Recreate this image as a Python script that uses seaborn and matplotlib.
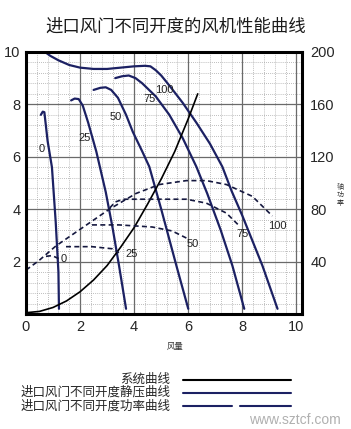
import numpy as np
import pandas as pd
import matplotlib
matplotlib.use('Agg')
import matplotlib.pyplot as plt
import seaborn as sns
from matplotlib.lines import Line2D
from matplotlib.ticker import MultipleLocator

sns.set_style('white')
plt.rcParams['font.family'] = ['Noto Sans CJK SC', 'DejaVu Sans']

NAVY = '#1c2163'

# static pressure curves per damper opening (x = 风量, y = 静压)
openings = ['0', '25', '50', '75', '100']
sp_x = {
    '0': [0.55, 0.62, 0.68, 0.8, 0.96, 1.1, 1.2, 1.22],
    '25': [1.67, 1.8, 1.95, 2.1, 2.3, 2.6, 2.95, 3.2, 3.44, 3.7],
    '50': [2.5, 2.75, 2.95, 3.15, 3.4, 3.7, 3.95, 4.3, 4.56, 5.0, 5.56, 6.0],
    '75': [3.3, 3.55, 3.8, 4.05, 4.3, 4.8, 5.3, 5.8, 6.3, 6.7, 7.2, 7.63, 8.07],
    '100': [0.7, 0.9, 1.2, 1.6, 2.0, 2.5, 3.0, 3.5, 4.0, 4.4, 4.6, 4.8, 5.0,
            5.3, 5.8, 6.3, 6.8, 7.26, 7.6, 8.0, 8.74, 9.3],
}
sp_y = {
    '0': [7.6, 7.72, 7.7, 6.6, 5.6, 3.5, 1.6, 0.2],
    '25': [8.15, 8.22, 8.2, 7.95, 7.3, 6.2, 4.65, 3.3, 1.85, 0.2],
    '50': [8.55, 8.63, 8.65, 8.55, 8.25, 7.6, 6.95, 6.2, 5.62, 4.0, 1.85, 0.2],
    '75': [9.0, 9.07, 9.1, 9.0, 8.8, 8.3, 7.6, 6.7, 5.62, 4.6, 3.2, 1.85, 0.2],
    '100': [10.0, 9.85, 9.68, 9.5, 9.4, 9.35, 9.35, 9.4, 9.45, 9.47, 9.45, 9.3, 9.1,
            8.72, 8.05, 7.3, 6.5, 5.62, 4.7, 3.75, 1.85, 0.2],
}
sp_label_xy = {'0': (0.59, 6.3), '25': (2.15, 6.72), '50': (3.33, 7.5),
               '75': (4.56, 8.19), '100': (5.11, 8.53)}

# shaft power curves (right axis, 轴功率)
pw_x = {
    '0': [0.74, 0.96, 1.22],
    '25': [1.48, 2.44, 3.19, 3.44],
    '50': [2.44, 3.44, 4.67, 5.4, 5.93],
    '75': [3.1, 3.3, 3.6, 4.67, 5.93, 6.67, 7.41, 7.89],
    '100': [0.0, 0.48, 1.11, 2.07, 3.07, 4.07, 4.93, 5.93, 6.67, 7.41, 8.37, 9.11],
}
pw_y = {
    '0': [44, 44.6, 42.2],
    '25': [51.4, 51.4, 49.8, 46.8],
    '50': [68, 68, 66.4, 63.4, 58],
    '75': [81, 85.5, 87.6, 87.6, 87.6, 84.6, 77, 67.2],
    '100': [33.5, 40.8, 52, 65.6, 79.8, 92, 98.8, 101.8, 101.8, 98.8, 89.8, 74.8],
}
pw_label_xy = {'0': (1.41, 42.2), '25': (3.89, 46), '50': (6.15, 53.6),
               '75': (8.0, 61.2), '100': (9.3, 67.2)}

# system curve
sys_x = [0, 0.5, 1, 1.5, 2, 2.5, 3, 3.5, 4, 4.5, 5, 5.5, 6, 6.35]
sys_y = [0.05, 0.1, 0.25, 0.5, 0.85, 1.3, 1.85, 2.55, 3.3, 4.2, 5.15, 6.2, 7.45, 8.4]

xticks = [0, 2, 4, 6, 8, 10]
yticks_left = [2, 4, 6, 8, 10]
yticks_right = [40, 80, 120, 160, 200]

fig = plt.figure(figsize=(3.51, 4.29), dpi=100)
ax = fig.add_axes([0.074, 0.268, 0.786, 0.611])
ax2 = ax.twinx()

ax.set_xlim(0, 10.2)
ax.set_ylim(0, 10)
ax2.set_ylim(0, 200)

# grid
ax.xaxis.set_minor_locator(MultipleLocator(0.4))
ax.yaxis.set_minor_locator(MultipleLocator(0.4))
ax.grid(which='minor', color='#a8a8a8', linestyle=(0, (1, 1.5)), linewidth=0.6)
ax.grid(which='major', color='#6a6a6a', linestyle='-', linewidth=0.9)
ax.set_axisbelow(True)

num_font = ['Liberation Sans', 'DejaVu Sans']

for o in openings:
    df = pd.DataFrame({'x': sp_x[o], 'y': sp_y[o]})
    sns.lineplot(data=df, x='x', y='y', ax=ax, sort=False, estimator=None,
                 color=NAVY, linewidth=1.6)
    lx, ly = sp_label_xy[o]
    ax.text(lx, ly, o, fontsize=8, ha='center', va='center', color='#222222',
            family=num_font)

df_sys = pd.DataFrame({'x': sys_x, 'y': sys_y})
sns.lineplot(data=df_sys, x='x', y='y', ax=ax, sort=False, estimator=None,
             color='black', linewidth=1.2)

for o in openings:
    df = pd.DataFrame({'x': pw_x[o], 'y': pw_y[o]})
    sns.lineplot(data=df, x='x', y='y', ax=ax2, sort=False, estimator=None,
                 color='#15183f', linewidth=1.2, linestyle=(0, (3, 2)))
    lx, ly = pw_label_xy[o]
    ax2.text(lx, ly, o, fontsize=8, ha='center', va='center', color='#222222',
             family=num_font)

ax.set_xticks(xticks)
ax.set_yticks(yticks_left)
ax2.set_yticks(yticks_right)
ax.set_xlabel('')
ax.set_ylabel('')
ax2.set_ylabel('')
ax.tick_params(axis='both', which='both', length=0, labelsize=10.5, pad=4)
ax2.tick_params(axis='y', length=0, labelsize=10.5, pad=6)
for lab in ax.get_xticklabels() + ax.get_yticklabels() + ax2.get_yticklabels():
    lab.set_family(num_font)
for sp in ax2.spines.values():
    sp.set_linewidth(2.2)
    sp.set_color('black')
for sp in ax.spines.values():
    sp.set_visible(False)

fig.text(0.5, 0.937, '进口风门不同开度的风机性能曲线', ha='center', va='center',
         fontsize=12.5, color='#1a1a1a')
fig.text(0.498, 0.193, '风量', ha='center', va='center', fontsize=6, color='#333333')
fig.text(0.968, 0.545, '轴\n功\n率', ha='center', va='center', fontsize=5,
         color='#333333', linespacing=1.0)

# legend drawn under the plot
legend_rows = ['系统曲线', '进口风门不同开度静压曲线', '进口风门不同开度功率曲线']
rows_y = [0.115, 0.085, 0.054]
fig.text(0.485, rows_y[0], legend_rows[0], ha='right', va='center', fontsize=9)
fig.text(0.485, rows_y[1], legend_rows[1], ha='right', va='center', fontsize=9)
fig.text(0.485, rows_y[2], legend_rows[2], ha='right', va='center', fontsize=9)
fig.add_artist(Line2D([0.522, 0.828], [rows_y[0]] * 2, color='black', lw=1.5))
fig.add_artist(Line2D([0.522, 0.828], [rows_y[1]] * 2, color=NAVY, lw=1.5))
fig.add_artist(Line2D([0.522, 0.66], [rows_y[2]] * 2, color=NAVY, lw=1.5))
fig.add_artist(Line2D([0.685, 0.828], [rows_y[2]] * 2, color=NAVY, lw=1.5))

fig.text(0.97, 0.022, 'www.sztcf.com', ha='right', va='center', fontsize=10,
         color='#b0b0b0', family=num_font)

fig.savefig('out.png', dpi=100)
